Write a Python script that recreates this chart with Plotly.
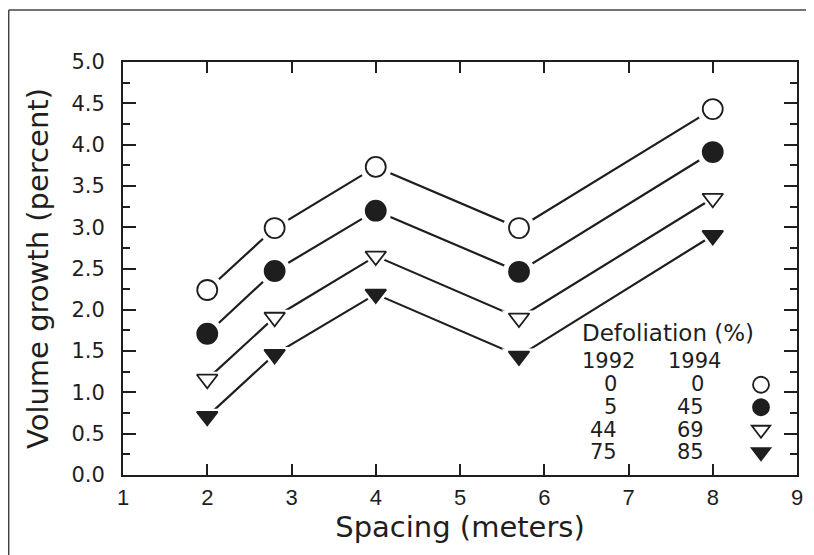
import plotly.graph_objects as go

# ---------------- data ----------------
spacing = [2, 2.8, 4, 5.7, 8]
vol_0_0 = [2.24, 2.99, 3.73, 2.99, 4.43]
vol_5_45 = [1.71, 2.47, 3.20, 2.46, 3.91]
vol_44_69 = [1.16, 1.91, 2.65, 1.90, 3.35]
vol_75_85 = [0.71, 1.46, 2.19, 1.44, 2.90]

def_1992 = ["0", "5", "44", "75"]
def_1994 = ["0", "45", "69", "85"]

x_tick_vals = [1, 2, 3, 4, 5, 6, 7, 8, 9]
y_tick_vals = [0.0, 0.5, 1.0, 1.5, 2.0, 2.5, 3.0, 3.5, 4.0, 4.5, 5.0]
y_minor_vals = [0.25, 0.75, 1.25, 1.75, 2.25, 2.75, 3.25, 3.75, 4.25, 4.75]

# ---------------- style ----------------
INK = "#1e1e1e"
PAGE = 8                      # default body margin of the html page
W, H = 814 - PAGE, 555 - PAGE
ML, MT = 123 - PAGE, 62 - PAGE
PLOT_R, PLOT_B = 797 - PAGE, 475 - PAGE
MR, MB = W - PLOT_R, H - PLOT_B
PW, PH = PLOT_R - ML, PLOT_B - MT


def px_x(p):
    """page pixel -> paper x"""
    return (p - PAGE - ML) / PW


def px_y(p):
    """page pixel -> paper y"""
    return (PLOT_B - (p - PAGE)) / PH


series = [
    (vol_0_0, "circle", "white", 20),
    (vol_5_45, "circle", INK, 20),
    (vol_44_69, "triangle-down", "white", 18),
    (vol_75_85, "triangle-down", INK, 18),
]

fig = go.Figure()

for vals, sym, fill, size in series:
    fig.add_trace(go.Scatter(x=spacing, y=vals, mode="lines",
                             line=dict(color=INK, width=2.2),
                             showlegend=False, hoverinfo="skip"))
for vals, sym, fill, size in series:
    fig.add_trace(go.Scatter(x=spacing, y=vals, mode="markers",
                             marker=dict(symbol=sym, size=size + 12, color="white",
                                         line=dict(width=0)),
                             showlegend=False, hoverinfo="skip"))
for i, (vals, sym, fill, size) in enumerate(series):
    fig.add_trace(go.Scatter(x=spacing, y=vals, mode="markers", name="",
                             marker=dict(symbol=sym, size=size, color=fill,
                                         line=dict(color=INK, width=1.8)),
                             showlegend=True,
                             hovertemplate=f"1992: {def_1992[i]}%, 1994: {def_1994[i]}%"
                                           "<br>Spacing %{x} m<br>Growth %{y}%<extra></extra>"))

axis_common = dict(showline=True, linewidth=2, linecolor=INK, mirror="ticks",
                   ticks="inside", tickcolor=INK, tickwidth=1.6,
                   showgrid=False, zeroline=False)

fig.update_xaxes(range=[1, 9], tickmode="array", tickvals=x_tick_vals,
                 ticklen=11, ticklabelstandoff=2,
                 tickfont=dict(family="Liberation Sans Narrow, Liberation Sans", size=22, color=INK),
                 title=dict(text="Spacing (meters)", standoff=0,
                            font=dict(family="DejaVu Sans", size=29, color=INK)),
                 automargin=False, **axis_common)
fig.update_yaxes(range=[0, 5], tickmode="array", tickvals=y_tick_vals,
                 ticktext=[f"{v:.1f}" for v in y_tick_vals],
                 ticklen=13, ticklabelstandoff=12,
                 minor=dict(tickmode="array", tickvals=y_minor_vals, ticks="inside",
                            ticklen=7, tickcolor=INK, tickwidth=1.6),
                 tickfont=dict(family="DejaVu Sans", size=21, color=INK),
                 title=dict(text="Volume growth (percent)", standoff=14,
                            font=dict(family="DejaVu Sans", size=29, color=INK)),
                 automargin=False, **axis_common)

# legend text block
ann = []
leg_font = dict(family="DejaVu Sans", size=21, color=INK)
ann.append(dict(text="Defoliation (%)", x=px_x(580), y=px_y(333), xanchor="left",
                yanchor="middle", font=dict(family="DejaVu Sans", size=23, color=INK)))
ann.append(dict(text="1992", x=px_x(580), y=px_y(361), xanchor="left",
                yanchor="middle", font=leg_font))
ann.append(dict(text="1994", x=px_x(666), y=px_y(361), xanchor="left",
                yanchor="middle", font=leg_font))
row_y = [384, 406.5, 429.5, 452]
for i in range(4):
    ann.append(dict(text=def_1992[i], x=px_x(619), y=px_y(row_y[i]), xanchor="right",
                    yanchor="middle", font=leg_font))
    ann.append(dict(text=def_1994[i], x=px_x(706), y=px_y(row_y[i]), xanchor="right",
                    yanchor="middle", font=leg_font))
for a in ann:
    a.update(xref="paper", yref="paper", showarrow=False)

# outer frame (top and left edges visible)
shapes = [
    dict(type="line", xref="paper", yref="paper", x0=px_x(8.7), x1=px_x(830),
         y0=px_y(10), y1=px_y(10), line=dict(color="#444", width=1.5)),
    dict(type="line", xref="paper", yref="paper", x0=px_x(8.7), x1=px_x(8.7),
         y0=px_y(10), y1=px_y(580), line=dict(color="#444", width=1.5)),
]

fig.update_layout(width=W, height=H, margin=dict(l=ML, r=MR, t=MT, b=MB),
                  plot_bgcolor="white", paper_bgcolor="white",
                  showlegend=True,
                  legend=dict(x=px_x(741), y=px_y(368.5), xanchor="left", yanchor="top",
                              bgcolor="rgba(0,0,0,0)", borderwidth=0,
                              font=dict(family="DejaVu Sans", size=15, color=INK),
                              itemwidth=30, tracegroupgap=0),
                  annotations=ann, shapes=shapes)

fig.write_html("out.html")
